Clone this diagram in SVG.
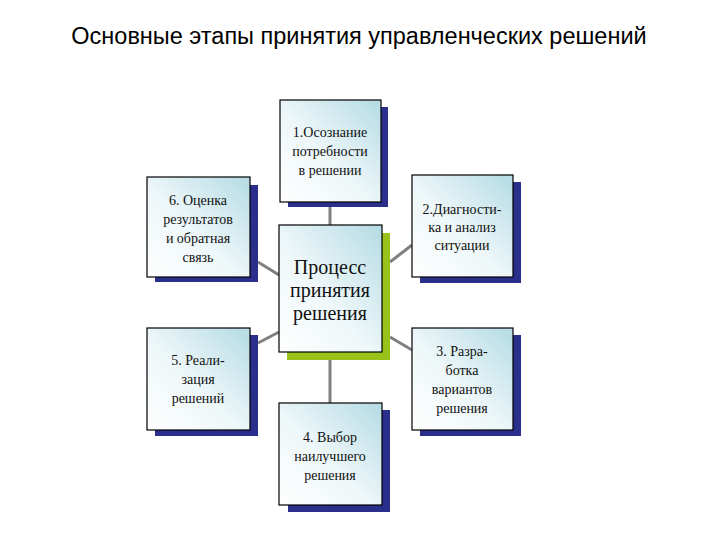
<svg xmlns="http://www.w3.org/2000/svg" width="720" height="540" viewBox="0 0 720 540">
<defs>
<linearGradient id="g" x1="0" y1="1" x2="1" y2="0">
<stop offset="0" stop-color="#ffffff"/><stop offset="0.45" stop-color="#eef7f9"/><stop offset="1" stop-color="#b4dbe4"/>
</linearGradient>
<style>
.box{fill:url(#g);stroke:#000;stroke-width:1.2}
.sh{fill:#2b2f8c}
.t{font-family:'Liberation Serif','Times New Roman','DejaVu Serif',serif;font-size:14px;fill:#111;text-anchor:middle}
.c{font-family:'Liberation Serif','Times New Roman','DejaVu Serif',serif;font-size:20px;fill:#111;text-anchor:middle}
.ln{stroke:#808080;stroke-width:3;fill:none}
</style>
</defs>
<rect width="720" height="540" fill="#fff"/>
<text x="359" y="44" font-family="Liberation Sans,Arial,sans-serif" font-size="23.5" text-anchor="middle" fill="#000">Основные этапы принятия управленческих решений</text>
<g id="connectors">
<line class="ln" x1="330" y1="207" x2="330" y2="225"/>
<line class="ln" x1="258" y1="262" x2="279" y2="275"/>
<line class="ln" x1="390" y1="262" x2="412" y2="245"/>
<line class="ln" x1="258" y1="343" x2="279" y2="332"/>
<line class="ln" x1="390" y1="337" x2="412" y2="350"/>
<line class="ln" x1="330" y1="360" x2="330" y2="403"/>
</g>
<g id="center">
<rect x="287" y="233" width="103" height="127" fill="#99c31a"/>
<rect class="box" x="279" y="225" width="103" height="127"/>
<text class="c" x="330" y="274">Процесс</text>
<text class="c" x="330" y="297">принятия</text>
<text class="c" x="330" y="320">решения</text>
</g>
<g id="n1">
<rect class="sh" x="288" y="107" width="100" height="100"/>
<rect class="box" x="280" y="100" width="101" height="102"/>
<text class="t" x="330" y="137">1.Осознание</text>
<text class="t" x="330" y="156">потребности</text>
<text class="t" x="330" y="175">в решении</text>
</g>
<g id="n2">
<rect class="sh" x="420" y="182" width="101" height="101"/>
<rect class="box" x="412" y="175" width="101" height="102"/>
<text class="t" x="462" y="214">2.Диагности-</text>
<text class="t" x="462" y="232">ка и анализ</text>
<text class="t" x="462" y="250">ситуации</text>
</g>
<g id="n3">
<rect class="sh" x="420" y="335" width="101" height="101"/>
<rect class="box" x="412" y="328" width="101" height="102"/>
<text class="t" x="462" y="356">3. Разра-</text>
<text class="t" x="462" y="375">ботка</text>
<text class="t" x="462" y="394">вариантов</text>
<text class="t" x="462" y="413">решения</text>
</g>
<g id="n4">
<rect class="sh" x="288" y="410" width="102" height="102"/>
<rect class="box" x="279" y="403" width="103" height="102"/>
<text class="t" x="330" y="442">4. Выбор</text>
<text class="t" x="330" y="461">наилучшего</text>
<text class="t" x="330" y="480">решения</text>
</g>
<g id="n5">
<rect class="sh" x="155" y="335" width="103" height="101"/>
<rect class="box" x="147" y="328" width="103" height="102"/>
<text class="t" x="198" y="365">5.  Реали-</text>
<text class="t" x="198" y="384">зация</text>
<text class="t" x="198" y="403">решений</text>
</g>
<g id="n6">
<rect class="sh" x="155" y="185" width="103" height="97"/>
<rect class="box" x="147" y="177" width="103" height="100"/>
<text class="t" x="198" y="205">6. Оценка</text>
<text class="t" x="198" y="224">результатов</text>
<text class="t" x="198" y="243">и обратная</text>
<text class="t" x="198" y="262">связь</text>
</g>
</svg>
